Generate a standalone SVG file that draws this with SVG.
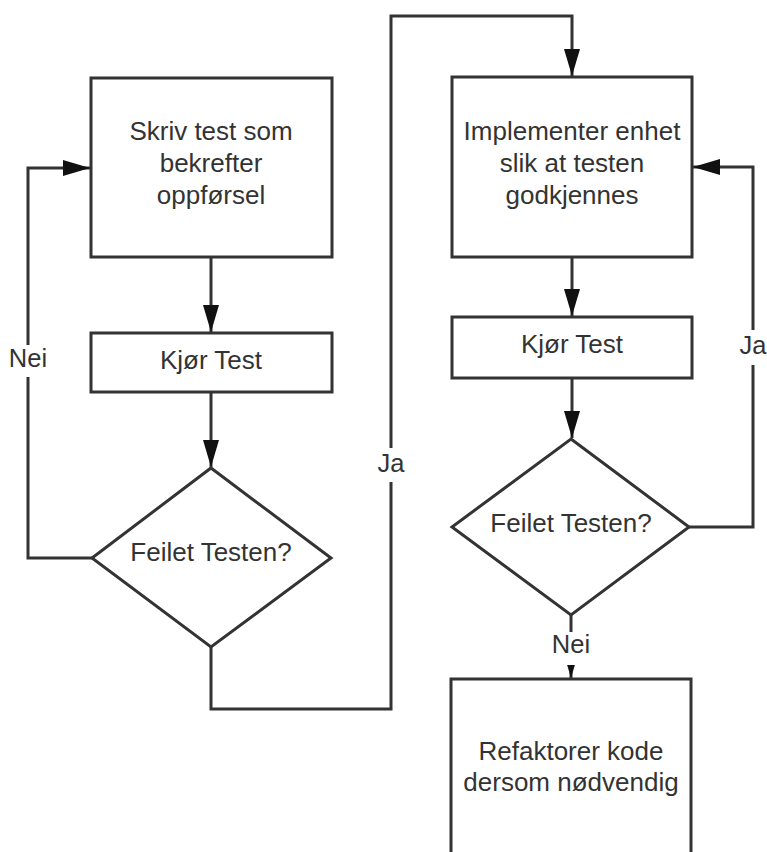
<svg xmlns="http://www.w3.org/2000/svg" width="767" height="852" viewBox="0 0 767 852">
  <style>
    .shape { fill: #ffffff; stroke: #333333; stroke-width: 3; }
    .edge { fill: none; stroke: #333333; stroke-width: 3; marker-end: url(#arrow); }
    .txt { font-family: "Liberation Sans", Arial, sans-serif; font-size: 26px; fill: #333333; text-anchor: middle; }
    .lbl { font-family: "Liberation Sans", Arial, sans-serif; font-size: 25.5px; fill: #333333; text-anchor: middle; }
    .gap { fill: #ffffff; }
  </style>
  <defs>
    <marker id="arrow" markerUnits="userSpaceOnUse" markerWidth="28" markerHeight="18" refX="27" refY="8" orient="auto">
      <path d="M0,0 L27,8 L0,16 Z" fill="#111111"/>
    </marker>
  </defs>
  <rect width="767" height="852" fill="#ffffff"/>

  <!-- connectors -->
  <g id="connectors">
    <path class="edge" d="M211,257 L211,332"/>
    <path class="edge" d="M211,392 L211,467"/>
    <path class="edge" d="M92,558 L28,558 L28,168 L90,168"/>
    <path class="edge" d="M211,646 L211,709 L391,709 L391,16 L572,16 L572,76"/>
    <path class="edge" d="M572,257 L572,316"/>
    <path class="edge" d="M572,378 L572,438"/>
    <path class="edge" d="M689,527 L753,527 L753,167 L693,167"/>
    <path class="edge" d="M571,615 L571,678"/>

    <!-- edge labels -->
    <rect class="gap" x="8" y="345" width="40" height="32"/>
    <text class="lbl" x="28" y="367">Nei</text>
    <rect class="gap" x="375" y="448" width="32" height="34"/>
    <text class="lbl" x="391" y="472">Ja</text>
    <rect class="gap" x="737" y="330" width="30" height="35"/>
    <text class="lbl" x="753" y="354">Ja</text>
    <rect class="gap" x="551" y="632" width="40" height="33"/>
    <text class="lbl" x="571" y="653">Nei</text>
  </g>

  <!-- left column -->
  <g id="write-test">
    <rect class="shape" x="91" y="78" width="241" height="179"/>
    <text class="txt" x="211" y="140">Skriv test som</text>
    <text class="txt" x="211" y="172">bekrefter</text>
    <text class="txt" x="211" y="204">oppførsel</text>
  </g>
  <g id="run-test-1">
    <rect class="shape" x="91" y="333" width="241" height="59"/>
    <text class="txt" x="211" y="369">Kjør Test</text>
  </g>
  <g id="failed-1">
    <polygon class="shape" points="211,468 331,558 211,647 92,558"/>
    <text class="txt" x="211" y="561">Feilet Testen?</text>
  </g>

  <!-- right column -->
  <g id="implement">
    <rect class="shape" x="452" y="77" width="240" height="180"/>
    <text class="txt" x="572" y="140">Implementer enhet</text>
    <text class="txt" x="572" y="172">slik at testen</text>
    <text class="txt" x="572" y="204">godkjennes</text>
  </g>
  <g id="run-test-2">
    <rect class="shape" x="452" y="317" width="240" height="61"/>
    <text class="txt" x="572" y="353">Kjør Test</text>
  </g>
  <g id="failed-2">
    <polygon class="shape" points="571,439 689,527 571,615 452,527"/>
    <text class="txt" x="571" y="532">Feilet Testen?</text>
  </g>
  <g id="refactor">
    <rect class="shape" x="451" y="679" width="240" height="200"/>
    <text class="txt" x="571" y="760">Refaktorer kode</text>
    <text class="txt" x="571" y="791">dersom nødvendig</text>
  </g>
</svg>
